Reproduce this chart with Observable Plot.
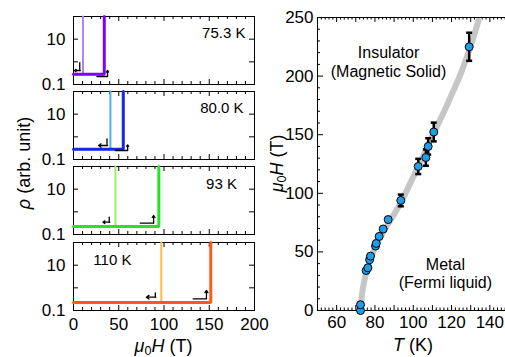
<!DOCTYPE html>
<html><head><meta charset="utf-8">
<script src="https://cdn.jsdelivr.net/npm/d3@7"></script>
<script src="https://cdn.jsdelivr.net/npm/@observablehq/plot@0.6"></script>
<style>
html,body{margin:0;padding:0;background:#fff;}
#chart{position:relative;width:505px;height:357px;overflow:hidden;font-family:"Liberation Sans",Arial,sans-serif;background:#fff;}
#chart svg{position:absolute;left:0;top:0;}
.t{position:absolute;white-space:nowrap;color:#000;font-family:"Liberation Sans",Arial,sans-serif;line-height:1;}
</style></head><body><div id="chart"></div>
<script>
// ---------- data: left panels (resistivity vs field) ----------
const panelLabels = ["75.3 K", "80.0 K", "93 K", "110 K"];
const fieldDown = [10.5, 40.8, 46.3, 97];     // T, transition on down-sweep (light)
const fieldUp = [34, 55, 94.3, 151.7];        // T, transition on up-sweep (dark)
const baseRho = [0.28, 0.28, 0.225, 0.225];   // arb. unit, metallic baseline
const rhoTop = 100;                           // off-scale insulating value
const darkColors = ["#7f00ff", "#1428e6", "#22e622", "#ff5a1a"];
const lightColors = ["#b982f2", "#4cb4f4", "#9cf45c", "#ffbb4c"];
const labelH = [166, 164, 163.5, 43];
const labelRho = [17.6, 18, 17, 16];
// sweep-direction arrows (annotation, data units)
const downStemH = [6.9, 37.0, 39.5, 90.4];
const downHeadH = [1.0, 27.7, 32.5, 80.5];
const downTopRho = [0.93, 0.82, 0.58, 0.60];
const downBotRho = [0.415, 0.415, 0.349, 0.386];
const upLeftH = [25.9, 46.2, 73.8, 132.2];
const upRightH = [37.6, 59.8, 88.5, 146.9];
const upLevelRho = [0.225, 0.249, 0.315, 0.328];
const upTopRho = [0.415, 0.445, 0.689, 0.763];
const xTicksLeft = [0, 50, 100, 150, 200];
const yTicksLeft = [0.1, 10];

// ---------- data: right panel (phase diagram) ----------
const critT = [72.45, 72.45, 75.4, 76.3, 77.2, 77.7, 80.3, 80.65, 82.2, 84.3, 86.9, 93.5, 102.6, 106.6, 107.8, 110.7, 129.2];
const critH = [0, 4.9, 34.1, 36.4, 43.3, 46.4, 55.0, 57.2, 63.2, 69.5, 77.6, 93.9, 122.9, 130.5, 140, 152.3, 225];
const critErr = [0, 0, 0, 0, 0, 0, 0, 0, 0, 0, 0, 5, 6.5, 7, 7, 8, 12];
const curveT = [72.7, 73.1, 74.5, 77, 80.5, 85, 90, 95, 100, 105, 110, 115, 120, 125, 130, 134];
const curveH = [0, 12, 26, 41, 55, 69, 82, 97, 114, 131, 149, 166, 184, 203, 226, 247];
const xTicksRight = [60, 80, 100, 120, 140];
const yTicksRight = [0, 50, 100, 150, 200, 250];

// ---------- layout ----------
const W = 505, H = 357;
const font = '"Liberation Sans", Arial, sans-serif';
const svgStyle = `background:none;overflow:visible;max-width:none;font-family:${font};font-size:17px;color:#000;`;
const chart = document.getElementById("chart");

const LF = {left: 73, right: 254, h: 68};
const panelTop = [16, 91, 166, 242];

function range(a, b, s) { const r = []; for (let v = a; v <= b + 1e-9; v += s) r.push(+v.toFixed(6)); return r; }

function leftPanel(i) {
  const top = panelTop[i];
  const fw = LF.right - LF.left, fh = LF.h;
  const b = baseRho[i];
  const light = [{h: 0, r: b}, {h: fieldDown[i], r: b}, {h: fieldDown[i], r: rhoTop}];
  const dark = [{h: 0, r: b}, {h: fieldUp[i], r: b}, {h: fieldUp[i], r: rhoTop}];
  const minorX = range(0, 200, 10).filter(v => v % 50 !== 0);
  const majorX = range(0, 200, 50);
  const yMaj = [1, 10];
  const marks = [
    Plot.frame({stroke: "black", strokeWidth: 1}),
    Plot.tickX(minorX, {x: d => d, insetTop: fh - 3, stroke: "black"}),
    Plot.tickX(minorX, {x: d => d, insetBottom: fh - 3, stroke: "black"}),
    Plot.tickX(majorX, {x: d => d, insetTop: fh - 5, stroke: "black"}),
    Plot.tickX(majorX, {x: d => d, insetBottom: fh - 5, stroke: "black"}),
    Plot.tickY(yMaj, {y: d => d, insetRight: fw - 5, stroke: "black"}),
    Plot.tickY(yMaj, {y: d => d, insetLeft: fw - 5, stroke: "black"}),
    Plot.line(light, {x: "h", y: "r", stroke: lightColors[i], strokeWidth: 2}),
    Plot.line(dark, {x: "h", y: "r", stroke: darkColors[i], strokeWidth: 3, strokeLinejoin: "miter"}),
    // down-sweep arrow
    Plot.line([{h: downStemH[i], r: downTopRho[i]}, {h: downStemH[i], r: downBotRho[i]}], {x: "h", y: "r", stroke: "black", strokeWidth: 1.3}),
    Plot.arrow([0], {x1: downStemH[i] + 0.6, y1: downBotRho[i], x2: downHeadH[i], y2: downBotRho[i], stroke: "black", strokeWidth: 1.3, headLength: 5, headAngle: 70}),
    // up-sweep arrow
    Plot.line([{h: upLeftH[i], r: upLevelRho[i]}, {h: upRightH[i], r: upLevelRho[i]}], {x: "h", y: "r", stroke: "black", strokeWidth: 1.3}),
    Plot.arrow([0], {x1: upRightH[i], y1: upLevelRho[i] * 1.04, x2: upRightH[i], y2: upTopRho[i], stroke: "black", strokeWidth: 1.3, headLength: 5, headAngle: 70}),
    Plot.text([panelLabels[i]], {x: labelH[i], y: labelRho[i], text: d => d, fontSize: 15, fill: "black"}),
    Plot.axisY(yTicksLeft, {tickSize: 0, tickPadding: 8, tickFormat: d => String(d), label: null, fontSize: 17})
  ];
  if (i === 3) marks.push(Plot.axisX(xTicksLeft, {tickSize: 0, tickPadding: 7, label: null, fontSize: 17}));
  const p = Plot.plot({
    width: 270, height: H,
    marginLeft: LF.left, marginRight: 270 - LF.right,
    marginTop: top, marginBottom: H - top - fh,
    x: {domain: [0, 200], axis: i === 3 ? undefined : null},
    y: {type: "log", domain: [0.1, 100]},
    style: svgStyle,
    marks
  });
  chart.appendChild(p);
}
for (let i = 0; i < 4; i++) leftPanel(i);

// ---------- right panel ----------
(function () {
  const fl = 317, fr = 508.5, ft = 17, fb = 310;
  const fw = fr - fl, fh = fb - ft;
  const pts = critT.map((t, k) => ({T: t, H: critH[k], e: critErr[k]}));
  const errs = pts.filter(d => d.e > 0);
  const curve = curveT.map((t, k) => ({T: t, H: curveH[k]}));
  const cap = {draw(ctx, size) { const w = Math.sqrt(size / Math.PI); ctx.moveTo(-w, 0); ctx.lineTo(w, 0); }};
  const xMinor = range(50, 150, 2).filter(v => v % 10 !== 0);
  const xMid = range(50, 150, 10);
  const yMinor = range(0, 250, 10).filter(v => v % 50 !== 0);
  const yMaj = range(0, 250, 50);
  const p = Plot.plot({
    width: 509, height: H,
    marginLeft: fl, marginRight: 509 - fr, marginTop: ft, marginBottom: H - fb,
    x: {domain: [50, 150]},
    y: {domain: [0, 250]},
    style: svgStyle,
    marks: [
      Plot.frame({stroke: "black", strokeWidth: 1}),
      Plot.tickX(xMinor, {x: d => d, insetTop: fh - 2.5, stroke: "black"}),
      Plot.tickX(xMinor, {x: d => d, insetBottom: fh - 2.5, stroke: "black"}),
      Plot.tickX(xMid, {x: d => d, insetTop: fh - 5, stroke: "black"}),
      Plot.tickX(xMid, {x: d => d, insetBottom: fh - 5, stroke: "black"}),
      Plot.tickY(yMinor, {y: d => d, insetRight: fw - 3, stroke: "black"}),
      Plot.tickY(yMaj, {y: d => d, insetRight: fw - 6, stroke: "black"}),
      Plot.line(curve, {x: "T", y: "H", stroke: "#c6c6c6", strokeWidth: 6, curve: "natural"}),
      Plot.ruleX(errs, {x: "T", y1: d => d.H - d.e, y2: d => d.H + d.e, stroke: "black", strokeWidth: 2.5}),
      Plot.dot(errs, {x: "T", y: d => d.H - d.e, symbol: cap, r: 3, fill: "none", stroke: "black", strokeWidth: 2.5}),
      Plot.dot(errs, {x: "T", y: d => d.H + d.e, symbol: cap, r: 3, fill: "none", stroke: "black", strokeWidth: 2.5}),
      Plot.dot(pts, {x: "T", y: "H", r: 4, fill: "#1e9ee8", stroke: "black", strokeWidth: 1}),
      Plot.text(["Insulator\n(Magnetic Solid)"], {x: 87.1, y: 212.5, text: d => d, fontSize: 16, lineHeight: 1.15, fill: "black"}),
      Plot.text(["Metal\n(Fermi liquid)"], {x: 116.8, y: 32, text: d => d, fontSize: 16, lineHeight: 1.15, fill: "black"}),
      Plot.axisX(xTicksRight, {tickSize: 0, tickPadding: 5, label: null, fontSize: 17}),
      Plot.axisY(yTicksRight, {tickSize: 0, tickPadding: 4, label: null, fontSize: 17})
    ]
  });
  chart.appendChild(p);
})();

// ---------- axis titles ----------
function title(html, cx, cy, size, rot) {
  const d = document.createElement("div");
  d.className = "t";
  d.style.fontSize = size + "px";
  d.innerHTML = html;
  chart.appendChild(d);
  const w = d.offsetWidth, h = d.offsetHeight;
  d.style.left = (cx - w / 2) + "px";
  d.style.top = (cy - h / 2) + "px";
  if (rot) d.style.transform = `rotate(${rot}deg)`;
}
const muH = '<i>μ</i><sub style="font-size:0.7em;vertical-align:-0.25em">0</sub><i>H</i> (T)';
title(muH, 163.5, 347, 18, 0);
title('<i>T</i> (K)', 413, 345, 18, 0);
title('<i>ρ</i> (arb. unit)', 24, 163, 18, -90);
title(muH, 278, 163, 18, -90);
</script></body></html>
